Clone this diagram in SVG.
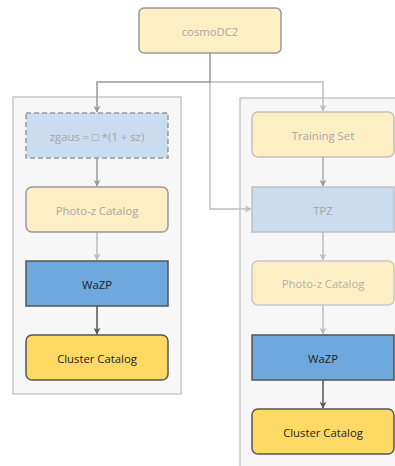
<svg xmlns="http://www.w3.org/2000/svg" width="395" height="466" viewBox="0 0 395 466">
<style>
text{font-family:"Open Sans","Liberation Sans",sans-serif;font-size:11.3px;text-anchor:middle;dominant-baseline:central}
.cl{fill:#f7f7f7;stroke:#c8c8c8;stroke-width:1.5}
.fy{fill:#fdefc4;stroke:#b0b0b0;stroke-width:1.5}
.fb{fill:#c9dcf0;stroke:#b0b0b0;stroke-width:1.5}
.wz{fill:#6fa8dc;stroke:#555;stroke-width:1.5}
.cc{fill:#ffd966;stroke:#555;stroke-width:1.5}
.ft{fill:#a6a6a6}
.dt{fill:#222}
.e{fill:none;stroke-width:1.5}
</style>
<defs>
<marker id="am" viewBox="0 0 10 10" refX="9" refY="5" markerWidth="7" markerHeight="7" orient="auto" markerUnits="userSpaceOnUse"><path d="M0,0 L10,5 L0,10 L3,5 Z" fill="#999"/></marker>
<marker id="al" viewBox="0 0 10 10" refX="9" refY="5" markerWidth="7" markerHeight="7" orient="auto" markerUnits="userSpaceOnUse"><path d="M0,0 L10,5 L0,10 L3,5 Z" fill="#bdbdbd"/></marker>
<marker id="ad" viewBox="0 0 10 10" refX="9" refY="5" markerWidth="7" markerHeight="7" orient="auto" markerUnits="userSpaceOnUse"><path d="M0,0 L10,5 L0,10 L3,5 Z" fill="#555"/></marker>
</defs>
<g id="cluster-left"><rect class="cl" x="13" y="97" width="168" height="297"/></g>
<g id="cluster-right"><rect class="cl" x="240" y="98" width="170" height="380"/></g>
<g id="connectors">
<path class="e" stroke="#bdbdbd" d="M210,82 H323 V111" marker-end="url(#al)"/>
<path class="e" stroke="#bdbdbd" d="M210,82 V209 H251" marker-end="url(#al)"/>
<path class="e" stroke="#999" d="M210,53 V82 H97 V112" marker-end="url(#am)"/>
<path class="e" stroke="#999" d="M97,158 V186" marker-end="url(#am)"/>
<path class="e" stroke="#bdbdbd" d="M97,232 V260" marker-end="url(#al)"/>
<path class="e" stroke="#555" d="M97,306 V334" marker-end="url(#ad)"/>
<path class="e" stroke="#aaa" d="M323,157 V186" marker-end="url(#am)"/>
<path class="e" stroke="#bdbdbd" d="M323,232 V260" marker-end="url(#al)"/>
<path class="e" stroke="#bdbdbd" d="M323,305 V334" marker-end="url(#al)"/>
<path class="e" stroke="#555" d="M323,380 V408" marker-end="url(#ad)"/>
</g>
<g id="cosmoDC2"><rect class="fy" x="139" y="8" width="142" height="45" rx="5" style="stroke:#999"/><text class="ft" x="210" y="31">cosmoDC2</text></g>
<g id="zgaus"><rect class="fb" x="26" y="113" width="142" height="45" style="stroke:#999;stroke-dasharray:5,3"/><text class="ft" x="97" y="136">zgaus = □ *(1 + sz)</text></g>
<g id="photoz-left"><rect class="fy" x="26" y="187" width="142" height="45" rx="6" style="stroke:#999"/><text class="ft" x="97" y="210">Photo-z Catalog</text></g>
<g id="wazp-left"><rect class="wz" x="26" y="261" width="142" height="45"/><text class="dt" x="97" y="284">WaZP</text></g>
<g id="cluster-catalog-left"><rect class="cc" x="26" y="335" width="142" height="45" rx="6"/><text class="dt" x="97" y="358">Cluster Catalog</text></g>
<g id="training-set"><rect class="fy" x="252" y="112" width="142" height="45" rx="6" style="stroke:#c0c0c0"/><text class="ft" x="323" y="135">Training Set</text></g>
<g id="tpz"><rect class="fb" x="252" y="187" width="142" height="45" style="stroke:#c0c0c0"/><text class="ft" x="323" y="210">TPZ</text></g>
<g id="photoz-right"><rect class="fy" x="252" y="261" width="142" height="44" rx="6" style="stroke:#c8c8c8"/><text class="ft" x="323" y="283" style="fill:#b0b0b0">Photo-z Catalog</text></g>
<g id="wazp-right"><rect class="wz" x="252" y="335" width="142" height="45"/><text class="dt" x="323" y="358">WaZP</text></g>
<g id="cluster-catalog-right"><rect class="cc" x="252" y="409" width="142" height="45" rx="6"/><text class="dt" x="323" y="432">Cluster Catalog</text></g>
</svg>
